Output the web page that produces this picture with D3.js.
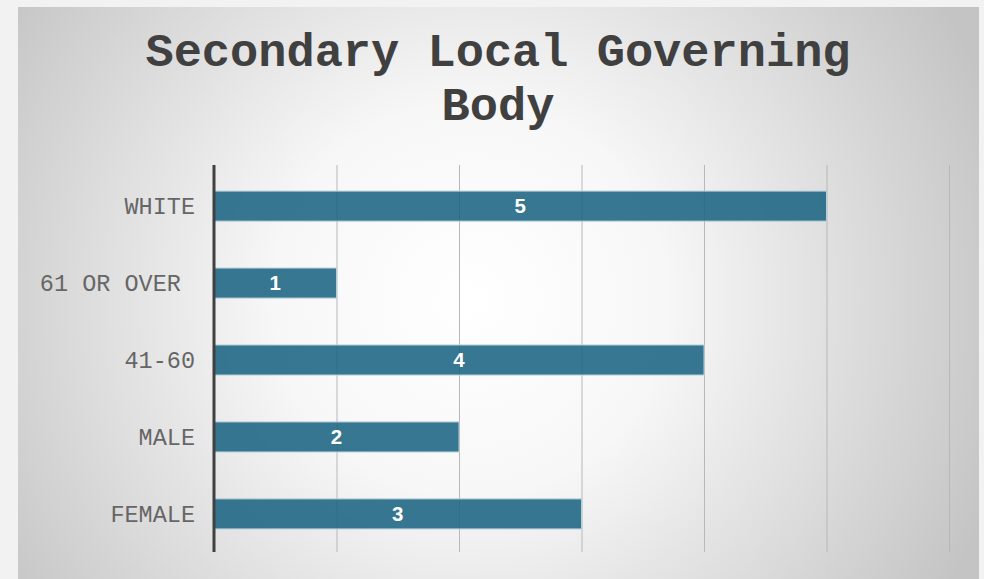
<!DOCTYPE html>
<html>
<head>
<meta charset="utf-8">
<script src="https://cdn.jsdelivr.net/npm/d3@7"></script>
<style>
  html, body { margin: 0; padding: 0; background: #f2f2f2; }
  svg { display: block; }
</style>
</head>
<body>
<svg id="chart" width="984" height="579"></svg>
<script>
var categories = ['WHITE', '61 OR OVER ', '41-60', 'MALE', 'FEMALE']
var values = [5, 1, 4, 2, 3]
var ticks = [0, 1, 2, 3, 4, 5, 6]
var titleLines = ['Secondary Local Governing', 'Body']

var mono = '"Courier New", Courier, "Nimbus Mono PS", FreeMono, "Liberation Mono", monospace'

var svg = d3.select('#chart'),
    W = 984, H = 579,
    frame = {x: 18, y: 7, w: 961, h: 572},
    m = {top: 165, right: 35, bottom: 27, left: 214}

var defs = svg.append('defs')
var grad = defs.append('radialGradient')
    .attr('id', 'bg')
    .attr('gradientUnits', 'userSpaceOnUse')
    .attr('cx', 470).attr('cy', 300).attr('r', 560)
grad.append('stop').attr('offset', '0%').attr('stop-color', '#ffffff')
grad.append('stop').attr('offset', '35%').attr('stop-color', '#f7f7f7')
grad.append('stop').attr('offset', '100%').attr('stop-color', '#c4c4c4')

svg.append('rect')
    .attr('x', frame.x).attr('y', frame.y)
    .attr('width', frame.w).attr('height', frame.h)
    .attr('fill', 'url(#bg)')

svg.selectAll('.title')
    .data(titleLines)
    .enter().append('text')
    .attr('class', 'title')
    .attr('x', 498)
    .attr('y', function(d, i) { return 66 + i * 54 })
    .attr('text-anchor', 'middle')
    .attr('font-family', mono)
    .attr('font-weight', 'bold')
    .attr('font-size', 47)
    .attr('fill', '#404040')
    .text(function(d) { return d })

var x = d3.scaleLinear()
    .domain([0, 6])
    .range([m.left, W - m.right])

var y = d3.scaleBand()
    .domain(categories)
    .range([m.top + 3, H - m.bottom])
    .paddingInner(0.61)
    .paddingOuter(0.3)

var g = svg.append('g')

g.selectAll('.grid')
    .data(ticks.slice(1))
    .enter().append('line')
    .attr('class', 'grid')
    .attr('x1', function(d) { return x(d) + 0.5 })
    .attr('x2', function(d) { return x(d) + 0.5 })
    .attr('y1', m.top)
    .attr('y2', H - m.bottom)
    .attr('stroke', '#b8b8b8')
    .attr('stroke-width', 1)

g.selectAll('.bar')
    .data(values)
    .enter().append('rect')
    .attr('class', 'bar')
    .attr('x', x(0))
    .attr('y', function(d, i) { return y(categories[i]) })
    .attr('width', function(d) { return x(d) - x(0) })
    .attr('height', y.bandwidth())
    .attr('fill', '#1d6482')
    .attr('fill-opacity', 0.88)
    .attr('stroke', '#b3cfdc')
    .attr('stroke-width', 1)

g.selectAll('.value')
    .data(values)
    .enter().append('text')
    .attr('class', 'value')
    .attr('x', function(d) { return (x(0) + x(d)) / 2 })
    .attr('y', function(d, i) { return y(categories[i]) + y.bandwidth() / 2 + 7 })
    .attr('text-anchor', 'middle')
    .attr('font-family', '"Liberation Sans", Arial, sans-serif')
    .attr('font-weight', 'bold')
    .attr('font-size', 20.5)
    .attr('fill', '#ffffff')
    .text(function(d) { return d })

var yAxis = g.append('g')
    .attr('transform', 'translate(' + x(0) + ',0)')
    .call(d3.axisLeft(y).tickSize(0).tickPadding(19))

yAxis.select('.domain').remove()

g.append('line')
    .attr('x1', x(0)).attr('x2', x(0))
    .attr('y1', m.top).attr('y2', H - m.bottom)
    .attr('stroke', '#404040')
    .attr('stroke-width', 3)

yAxis.selectAll('text')
    .attr('font-family', mono)
    .attr('font-size', 23.5)
    .attr('fill', '#666666')
    .style('white-space', 'pre')
    .attr('dy', '0.35em')
</script>
</body>
</html>
